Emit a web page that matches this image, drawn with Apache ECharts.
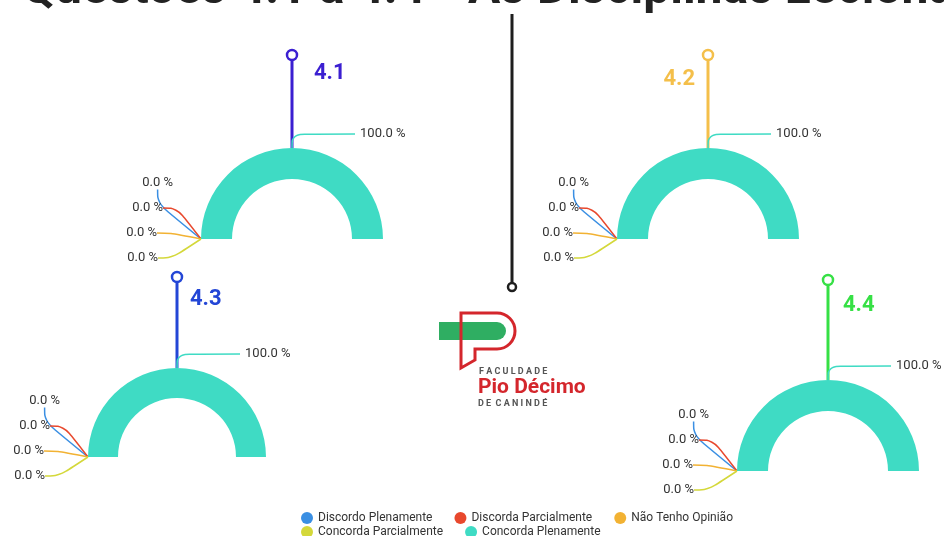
<!DOCTYPE html>
<html>
<head>
<meta charset="utf-8">
<script src="https://cdn.jsdelivr.net/npm/echarts@6/dist/echarts.min.js"></script>
<style>
  html, body { margin: 0; padding: 0; background: #fff; }
  #main { width: 944px; height: 536px; }
</style>
</head>
<body>
<div id="main"></div>
<script>
// answer options (legend order)
var categories = ['Discordo Plenamente', 'Discorda Parcialmente', 'Não Tenho Opinião', 'Concorda Parcialmente', 'Concorda Plenamente']
var colors = ['#3a8fe3', '#e8482d', '#f2b233', '#d4d83a', '#3fdbc4']

// questions and answer counts (%)
var questions = ['4.1', '4.2', '4.3', '4.4']
var q41 = [0, 0, 0, 0, 100]
var q42 = [0, 0, 0, 0, 100]
var q43 = [0, 0, 0, 0, 100]
var q44 = [0, 0, 0, 0, 100]
var values = [q41, q42, q43, q44]

// layout of each half donut (tag = question number beside the pin)
var layout = [
    { center: [292, 239], r: [60, 91], pin: 55, color: '#3b1fd1', tagDx: 22, tagDy: 18 },
    { center: [708, 239], r: [60, 91], pin: 55, color: '#f4bf4a', tagDx: -13, tagDy: 24 },
    { center: [177, 457], r: [59, 89], pin: 277, color: '#2346d6', tagDx: 13, tagDy: 22 },
    { center: [828, 471], r: [60, 91], pin: 280, color: '#36e045', tagDx: 15, tagDy: 25 }
]
// where the small labels of the left corner go (offset from the corner)
var cornerDx = [28, 38, 44, 43]
var cornerDy = [-56, -31, -6, 19]

var chart = echarts.init(document.getElementById('main'))
var font = 'Roboto'

var series = questions.map(function (q, i) {
    var L = layout[i]
    var cornerX = L.center[0] - L.r[1]
    return {
        name: q,
        type: 'pie',
        center: L.center,
        radius: L.r,
        startAngle: 180,
        endAngle: -0.05,
        clockwise: true,
        avoidLabelOverlap: false,
        itemStyle: { borderWidth: 0 },
        label: {
            show: true,
            color: '#333',
            fontFamily: font,
            fontSize: 13,
            formatter: function (p) { return p.percent.toFixed(1) + ' %' }
        },
        labelLine: { show: true, smooth: 0.4, lineStyle: { width: 1.5 } },
        labelLayout: function (p) {
            if (p.dataIndex > 3) return {}
            return {
                x: cornerX - cornerDx[p.dataIndex],
                y: L.center[1] + cornerDy[p.dataIndex],
                align: 'right',
                verticalAlign: 'middle'
            }
        },
        emphasis: { disabled: true },
        data: categories.map(function (c, k) {
            var v = values[i][k]
            return {
                name: c,
                value: v,
                labelLine: v > 0 ? { length: 14, length2: 63 } : { length: 6, length2: 14 }
            }
        })
    }
})

var red = '#d4262c'
var graphics = [
    {
        type: 'text', x: 22, y: -9, z: 10,
        style: { text: 'Questões 4.1 a 4.4 - As Disciplinas Lecionadas', fontSize: 48, fontWeight: 'bold', fontFamily: font, fill: '#222', verticalAlign: 'middle' }
    },
    { type: 'line', shape: { x1: 512, y1: 14, x2: 512, y2: 283 }, style: { stroke: '#1e1e1e', lineWidth: 3 } },
    { type: 'circle', shape: { cx: 512, cy: 287, r: 4 }, style: { fill: '#fff', stroke: '#1e1e1e', lineWidth: 2.5 } },
    // logo
    { type: 'rect', shape: { x: 439, y: 322, width: 67, height: 18, r: [0, 9, 9, 0] }, style: { fill: '#2fae62' } },
    { type: 'polyline', shape: { points: [[497, 313], [461, 313], [461, 368], [475, 360], [475, 349], [497, 349]] }, style: { fill: 'none', stroke: red, lineWidth: 3 } },
    { type: 'arc', shape: { cx: 497, cy: 331, r: 18, startAngle: -Math.PI / 2, endAngle: Math.PI / 2, clockwise: true }, style: { fill: 'none', stroke: red, lineWidth: 3 } },
    { type: 'text', x: 479, y: 372, style: { text: 'F A C U L D A D E', fontSize: 9, fontWeight: 'bold', fontFamily: font, fill: '#555', verticalAlign: 'middle' } },
    { type: 'text', x: 478, y: 388, style: { text: 'Pio Décimo', fontSize: 21, fontWeight: 'bold', fontFamily: font, fill: red, verticalAlign: 'middle' } },
    { type: 'text', x: 478, y: 404, style: { text: 'D E  C A N I N D É', fontSize: 9, fontWeight: 'bold', fontFamily: font, fill: '#555', verticalAlign: 'middle' } }
]

// pins with the question tag
layout.forEach(function (L, i) {
    var cx = L.center[0]
    var top = L.center[1] - L.r[1]
    graphics.push({ type: 'line', z: 1, shape: { x1: cx, y1: L.pin + 5, x2: cx, y2: top }, style: { stroke: L.color, lineWidth: 3 } })
    graphics.push({ type: 'circle', z: 1, shape: { cx: cx, cy: L.pin, r: 5 }, style: { fill: '#fff', stroke: L.color, lineWidth: 2.5 } })
    graphics.push({
        type: 'text', z: 1,
        x: cx + L.tagDx,
        y: L.pin + L.tagDy,
        style: { text: questions[i], fontSize: 22, fontWeight: 'bold', fontFamily: font, fill: L.color, align: L.tagDx > 0 ? 'left' : 'right', verticalAlign: 'middle' }
    })
})

var legendBase = {
    orient: 'horizontal',
    icon: 'circle',
    itemWidth: 12,
    itemHeight: 12,
    itemGap: 22,
    padding: 0,
    textStyle: { fontFamily: font, fontSize: 12, color: '#333' }
}

var option = {
    backgroundColor: '#fff',
    color: colors,
    animation: false,
    legend: [
        Object.assign({}, legendBase, { left: 301, top: 512, data: categories.slice(0, 3) }),
        Object.assign({}, legendBase, { left: 301, top: 526, data: categories.slice(3) })
    ],
    graphic: graphics,
    series: series
}

chart.setOption(option)
</script>
</body>
</html>
